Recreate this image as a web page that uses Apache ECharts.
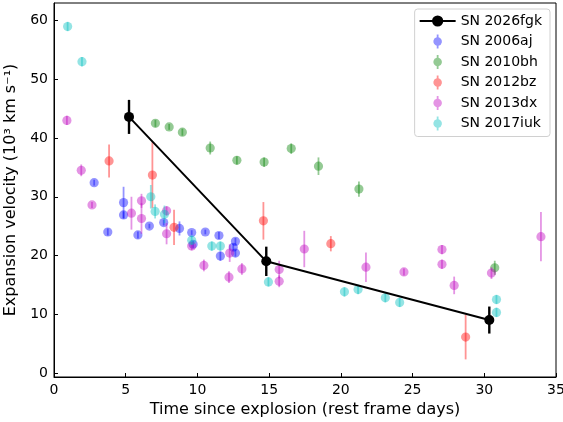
<!DOCTYPE html>
<html>
<head>
<meta charset="utf-8">
<script src="https://cdn.jsdelivr.net/npm/echarts@6/dist/echarts.min.js"></script>
<style>html,body{margin:0;padding:0;background:#fff}#chart{width:563px;height:422px}</style>
</head>
<body>
<div id="chart"></div>
<script>
// ---- data ----
const xTicks = [0, 5, 10, 15, 20, 25, 30, 35];
const yTicks = [0, 10, 20, 30, 40, 50, 60];

const fgkTime = [5.23, 14.8, 30.35];
const fgkVel  = [43.6, 19.0, 9.0];
const fgkErr  = [2.9, 2.5, 2.3];

const aj06Time = [2.8, 3.75, 4.85, 4.85, 5.85, 6.65, 7.65, 8.75, 9.6, 9.7, 10.55, 11.5, 11.6, 12.5, 12.65, 12.65];
const aj06Vel  = [32.4, 24.0, 29.0, 26.9, 23.5, 25.0, 25.6, 24.6, 23.9, 21.9, 24.0, 23.4, 19.9, 21.4, 22.4, 20.4];
const aj06Err  = [0.5, 0.6, 2.7, 0.6, 0.6, 0.4, 0.5, 1.2, 0.4, 0.6, 0.4, 0.6, 0.8, 0.6, 0.6, 0.6];

const bh10Time = [7.07, 8.03, 8.95, 10.89, 12.75, 14.65, 16.54, 18.44, 21.26, 30.73];
const bh10Vel  = [42.5, 41.9, 41.0, 38.3, 36.2, 35.9, 38.2, 35.2, 31.3, 17.9];
const bh10Err  = [0.6, 0.5, 0.6, 1.1, 0.7, 0.8, 0.9, 1.5, 1.3, 1.2];

const bz12Time = [3.84, 6.86, 8.37, 14.6, 19.3, 28.7];
const bz12Vel  = [36.1, 33.7, 24.8, 25.9, 22.0, 6.1];
const bz12Err  = [2.8, 5.6, 3.0, 3.2, 1.3, 3.8];

const dx13Time = [0.9, 1.9, 2.65, 5.4, 6.1, 6.1, 7.85, 7.85, 9.6, 10.45, 12.25, 12.2, 13.1, 15.7, 15.7, 17.45, 21.75, 24.4, 27.05, 27.05, 27.9, 30.5, 33.95];
const dx13Vel  = [43.0, 34.5, 28.6, 27.2, 29.3, 26.3, 27.6, 23.7, 21.6, 18.3, 20.4, 16.3, 17.7, 17.6, 15.6, 21.1, 18.0, 17.2, 21.0, 18.5, 14.9, 17.0, 23.2];
const dx13Err  = [0.8, 1.0, 0.5, 2.8, 1.2, 2.6, 0.8, 1.8, 0.7, 1.0, 1.5, 1.0, 1.0, 1.5, 1.0, 3.1, 2.5, 0.6, 0.8, 0.8, 1.5, 1.0, 4.2];

const iuk17Time = [0.95, 1.95, 6.75, 7.05, 7.7, 9.6, 11.0, 11.6, 14.95, 20.25, 21.2, 23.1, 24.1, 30.85, 30.85];
const iuk17Vel  = [59.0, 53.0, 30.0, 27.5, 27.0, 22.6, 21.6, 21.6, 15.5, 13.8, 14.2, 12.8, 12.0, 12.5, 10.3];
const iuk17Err  = [0.8, 0.8, 2.0, 1.2, 1.5, 0.8, 0.8, 0.8, 0.8, 0.8, 0.8, 0.8, 0.8, 0.8, 0.8];

// ---- build ----
const FONT = 'DejaVu Sans';
const ALPHA = 0.42;
const zip = (t, v, e) => t.map((x, i) => [x, v[i], e[i]]);

function errSeries(name, color, t, v, e) {
  return {
    name: name,
    type: 'custom',
    z: 2,
    itemStyle: { color: color, opacity: ALPHA },
    encode: { x: 0, y: 1 },
    data: zip(t, v, e),
    renderItem: function (params, api) {
      const x = api.value(0), y = api.value(1), er = api.value(2);
      const p = api.coord([x, y]);
      const top = api.coord([x, y + er]);
      const bot = api.coord([x, y - er]);
      return {
        type: 'group',
        children: [
          { type: 'circle', shape: { cx: p[0], cy: p[1], r: 4.6 }, style: { fill: color, opacity: ALPHA } },
          { type: 'line', shape: { x1: p[0], y1: top[1], x2: p[0], y2: bot[1] }, style: { stroke: color, lineWidth: 1.8, opacity: ALPHA } }
        ]
      };
    }
  };
}

const errIcon = 'path://M-0.9,-7 L0.9,-7 L0.9,-4.2 A4.3,4.3 0 0 1 0.9,4.2 L0.9,7 L-0.9,7 L-0.9,4.2 A4.3,4.3 0 0 1 -0.9,-4.2 Z';

const series = [
  errSeries('SN 2006aj', '#0000ff', aj06Time, aj06Vel, aj06Err),
  errSeries('SN 2010bh', '#008000', bh10Time, bh10Vel, bh10Err),
  errSeries('SN 2012bz', '#ff0000', bz12Time, bz12Vel, bz12Err),
  errSeries('SN 2013dx', '#bf00bf', dx13Time, dx13Vel, dx13Err),
  errSeries('SN 2017iuk', '#00bfbf', iuk17Time, iuk17Vel, iuk17Err),
  {
    name: 'fgkErr',
    type: 'custom',
    z: 5,
    encode: { x: 0, y: 1 },
    data: zip(fgkTime, fgkVel, fgkErr),
    renderItem: function (params, api) {
      const x = api.value(0), y = api.value(1), er = api.value(2);
      const top = api.coord([x, y + er]);
      const bot = api.coord([x, y - er]);
      return { type: 'line', shape: { x1: top[0], y1: top[1], x2: bot[0], y2: bot[1] }, style: { stroke: '#000', lineWidth: 2.4 } };
    }
  },
  {
    name: 'SN 2026fgk',
    type: 'line',
    z: 6,
    data: fgkTime.map((x, i) => [x, fgkVel[i]]),
    symbol: 'circle',
    symbolSize: 10,
    lineStyle: { color: '#000', width: 2 },
    itemStyle: { color: '#000' },
    animation: false
  }
];

const chart = echarts.init(document.getElementById('chart'), null, { renderer: 'canvas' });
chart.setOption({
  animation: false,
  textStyle: { fontFamily: FONT },
  grid: { left: 54, right: 7, top: 3, bottom: 45, containLabel: false, outerBoundsMode: 'none', show: true, borderColor: '#000', borderWidth: 1, backgroundColor: 'transparent' },
  legend: {
    right: 13, top: 9,
    orient: 'vertical',
    backgroundColor: '#fff',
    borderColor: '#d0d0d0', borderWidth: 1, borderRadius: 3,
    padding: [5, 8, 6, 4],
    itemWidth: 36, itemHeight: 14, itemGap: 6.5,
    textStyle: { fontFamily: FONT, fontSize: 14, color: '#000' },
    data: [
      { name: 'SN 2026fgk' },
      { name: 'SN 2006aj', icon: errIcon },
      { name: 'SN 2010bh', icon: errIcon },
      { name: 'SN 2012bz', icon: errIcon },
      { name: 'SN 2013dx', icon: errIcon },
      { name: 'SN 2017iuk', icon: errIcon }
    ]
  },
  xAxis: {
    type: 'value', min: 0, max: 35, interval: 5,
    name: 'Time since explosion (rest frame days)',
    nameLocation: 'middle', nameGap: 24,
    nameTextStyle: { fontFamily: FONT, fontSize: 16, color: '#000' },
    axisLine: { show: true, onZero: false, lineStyle: { color: '#000', width: 1 } },
    axisTick: { show: true, inside: true, length: 4, lineStyle: { color: '#000' }, customValues: xTicks },
    axisLabel: { fontFamily: FONT, fontSize: 14, color: '#000', margin: 6, customValues: xTicks },
    splitLine: { show: false }
  },
  yAxis: {
    type: 'value', min: -0.7, max: 63,
    name: 'Expansion velocity (10³ km s⁻¹)',
    nameLocation: 'middle', nameGap: 30,
    nameTextStyle: { fontFamily: FONT, fontSize: 16, color: '#000' },
    axisLine: { show: true, onZero: false, lineStyle: { color: '#000', width: 1 } },
    axisTick: { show: true, inside: true, length: 4, lineStyle: { color: '#000' }, customValues: yTicks },
    axisLabel: { fontFamily: FONT, fontSize: 14, color: '#000', margin: 6, customValues: yTicks },
    splitLine: { show: false }
  },
  series: series
});
</script>
</body>
</html>
